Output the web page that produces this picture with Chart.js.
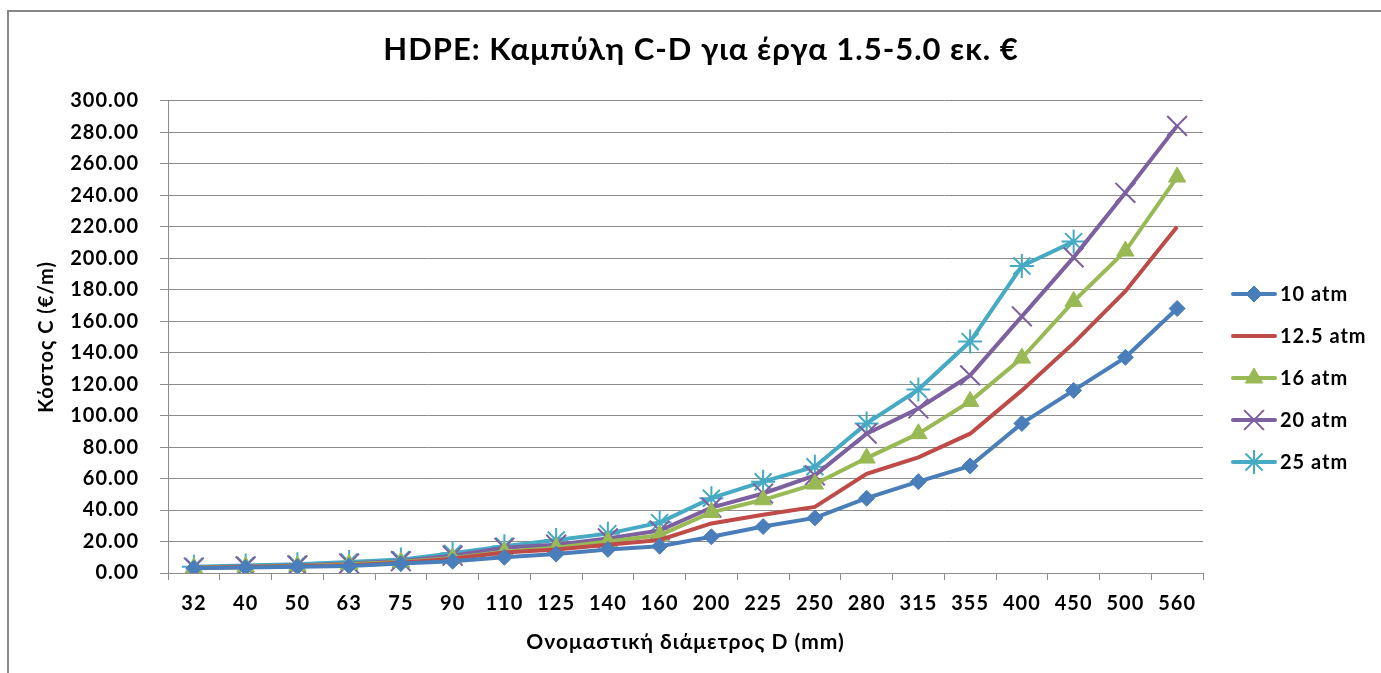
<!DOCTYPE html>
<html><head><meta charset="utf-8">
<script src="https://cdn.jsdelivr.net/npm/chart.js@4.4.1/dist/chart.umd.min.js"></script>
<style>
html,body{margin:0;padding:0;background:#fff;overflow:hidden;}
#wrap{position:relative;width:1381px;height:673px;overflow:hidden;}
#frame{position:absolute;left:7px;top:10px;width:1420px;height:720px;border:2px solid #878787;box-sizing:border-box;}
#c{position:absolute;left:0;top:0;}
</style></head><body>
<div id="wrap"><div id="frame"></div><canvas id="c" width="1381" height="673"></canvas></div>
<script>
const diameters = ['32','40','50','63','75','90','110','125','140','160','200','225','250','280','315','355','400','450','500','560'];
const atm10  = [3.0, 3.5, 4.0, 4.5, 6.0, 7.5, 10.0, 12.0, 15.0, 17.0, 23.0, 29.5, 35.0, 47.5, 58.0, 68.0, 95.0, 116.0, 137.0, 168.0];
const atm125 = [3.2, 3.8, 4.3, 5.0, 6.5, 9.0, 13.0, 15.0, 18.0, 21.0, 31.5, 37.0, 42.0, 63.0, 73.5, 88.5, 116.0, 146.0, 179.0, 220.0];
const atm16  = [3.3, 4.0, 4.5, 5.5, 7.0, 9.5, 13.5, 16.0, 20.0, 24.0, 38.5, 46.5, 56.5, 73.0, 88.5, 109.0, 136.5, 172.5, 204.5, 251.5];
const atm20  = [3.5, 4.2, 4.8, 6.0, 7.5, 11.0, 16.0, 18.0, 22.0, 27.0, 41.5, 50.5, 62.0, 88.5, 104.5, 125.5, 163.0, 200.5, 241.5, 284.0];
const atm25  = [4.0, 4.8, 5.5, 7.0, 8.5, 12.5, 17.0, 21.0, 25.0, 32.0, 47.5, 58.0, 67.5, 95.0, 116.5, 147.0, 195.0, 210.5, null, null];
const seriesNames = ['10 atm','12.5 atm','16 atm','20 atm','25 atm'];
const yMin = 0, yMax = 300, yStep = 20;

const FONT = "Lato, 'Noto Sans', sans-serif";
const GRID = '#8c8c8c';

const spacing = {
  id: 'spacing',
  beforeUpdate(chart) { chart.ctx.letterSpacing = '1px'; },
  beforeDraw(chart) { chart.ctx.letterSpacing = '1px'; }
};

const sideLegend = {
  id: 'sideLegend',
  afterDraw(chart) {
    const ctx = chart.ctx;
    const x0 = chart.chartArea.right + 30;
    const y0 = 294, step = 42, len = 42;
    chart.data.datasets.forEach((ds, i) => {
      const y = y0 + i * step;
      ctx.save();
      ctx.letterSpacing = '1px';
      ctx.strokeStyle = ds.borderColor;
      ctx.lineWidth = ds.borderWidth;
      ctx.lineCap = 'round';
      ctx.beginPath(); ctx.moveTo(x0, y); ctx.lineTo(x0 + len, y); ctx.stroke();
      if (ds.pointRadius > 0) {
        ctx.fillStyle = ds.pointBackgroundColor;
        ctx.strokeStyle = ds.pointBorderColor;
        ctx.lineWidth = ds.pointBorderWidth;
        ctx.lineCap = 'butt';
        Chart.helpers.drawPoint(ctx, {pointStyle: ds.pointStyle, radius: ds.pointRadius, borderWidth: ds.pointBorderWidth, rotation: 0}, x0 + len / 2, y);
      }
      ctx.fillStyle = '#000';
      ctx.font = "bold 20px " + FONT;
      ctx.textBaseline = 'middle';
      ctx.textAlign = 'left';
      ctx.fillText(ds.label, x0 + len + 5, y + 1);
      ctx.restore();
    });
  }
};

function mk(label, data, color, style, radius, bw, markColor) {
  return {
    label, data,
    borderColor: color, backgroundColor: color,
    borderWidth: 4,
    pointStyle: style,
    pointRadius: radius, pointHoverRadius: radius,
    pointBackgroundColor: markColor || color,
    pointBorderColor: markColor || color,
    pointBorderWidth: bw,
    tension: 0, spanGaps: false
  };
}

new Chart(document.getElementById('c'), {
  type: 'line',
  data: {
    labels: diameters,
    datasets: [
      mk(seriesNames[0], atm10, '#4A7EBB', 'rectRot', 8, 1),
      mk(seriesNames[1], atm125, '#BE4B48', 'circle', 0, 0),
      mk(seriesNames[2], atm16, '#98B954', 'triangle', 10, 1),
      mk(seriesNames[3], atm20, '#7D60A0', 'crossRot', 14, 2),
      mk(seriesNames[4], atm25, '#46AAC5', 'star', 12, 2)
    ]
  },
  options: {
    responsive: false,
    animation: false,
    devicePixelRatio: 1,
    layout: { padding: { left: 21, right: 0, top: 0, bottom: 0 } },
    plugins: {
      legend: { display: false },
      tooltip: { enabled: false },
      title: {
        display: true,
        text: 'HDPE: Καμπύλη C-D για έργα 1.5-5.0 εκ. €',
        color: '#000',
        font: { family: FONT, size: 31, weight: 'bold', lineHeight: 1.1 },
        padding: { top: 33, bottom: 33.6 }
      }
    },
    scales: {
      x: {
        type: 'category',
        offset: true,
        grid: { offset: true, drawOnChartArea: false, drawTicks: true, tickLength: 7, color: GRID, lineWidth: 1 },
        border: { display: true, color: GRID, width: 1 },
        ticks: { color: '#000', font: { family: FONT, size: 20, weight: 'bold' }, padding: 12, autoSkip: false, maxRotation: 0 },
        title: { display: true, text: 'Ονομαστική διάμετρος D (mm)', color: '#000', font: { family: FONT, size: 21, weight: 'bold' }, padding: { top: 0, bottom: 18 } },
        afterFit(s) { s.height = 100; }
      },
      y: {
        min: yMin, max: yMax,
        grid: { color: GRID, lineWidth: 1, drawTicks: true, tickLength: 8 },
        border: { display: true, color: GRID, width: 1 },
        ticks: { stepSize: yStep, color: '#000', font: { family: FONT, size: 20, weight: 'bold' }, padding: 21, callback: v => Number(v).toFixed(2) },
        title: { display: true, text: 'Κόστος C (€/m)', color: '#000', font: { family: FONT, size: 20, weight: 'bold' }, padding: { top: 14, bottom: 0 } },
        afterFit(s) { s.width = 147; }
      },
      yRight: {
        position: 'right', display: true,
        grid: { display: false }, border: { display: false }, ticks: { display: false },
        afterFit(s) { s.width = 178; }
      }
    }
  },
  plugins: [spacing, sideLegend]
});
</script>
</body></html>
